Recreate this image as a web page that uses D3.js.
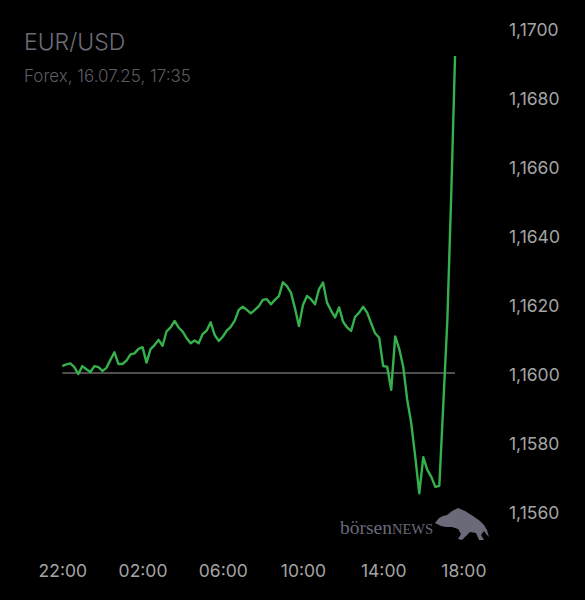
<!DOCTYPE html>
<html><head><meta charset="utf-8">
<script src="https://cdn.jsdelivr.net/npm/d3@7"></script>
<style>
html,body{margin:0;padding:0;background:#000;}
svg{display:block;}
</style></head>
<body>
<svg id="c" width="585" height="600"></svg>
<script>
const title = "EUR/USD";
const subtitle = "Forex, 16.07.25, 17:35";
const times = [
"22:00","22:12","22:24","22:36","22:48",
"23:00","23:12","23:24","23:36","23:48",
"00:00","00:12","00:24","00:36","00:48",
"01:00","01:12","01:24","01:36","01:48",
"02:00","02:12","02:24","02:36","02:48",
"03:00","03:12","03:24","03:36","03:48",
"04:00","04:12","04:24","04:36","04:48",
"05:00","05:12","05:24","05:36","05:48",
"06:00","06:12","06:24","06:36","06:48",
"07:00","07:12","07:24","07:36","07:48",
"08:00","08:12","08:24","08:36","08:48",
"09:00","09:12","09:24","09:36","09:48",
"10:00","10:12","10:24","10:36","10:48",
"11:00","11:12","11:24","11:36","11:48",
"12:00","12:12","12:24","12:36","12:48",
"13:00","13:12","13:24","13:36","13:48",
"14:00","14:12","14:24","14:36","14:48",
"15:00","15:12","15:24","15:36","15:48",
"16:00","16:12","16:24","16:36","16:48",
"17:00","17:12","17:24","17:35"];
const prices = [
1.16020,1.16025,1.16028,1.16017,1.15997,
1.16020,1.16011,1.16003,1.16020,1.16017,
1.16006,1.16015,1.16038,1.16060,1.16026,
1.16026,1.16036,1.16054,1.16057,1.16070,
1.16075,1.16030,1.16069,1.16081,1.16096,
1.16079,1.16121,1.16132,1.16151,1.16132,
1.16120,1.16101,1.16086,1.16094,1.16086,
1.16113,1.16123,1.16147,1.16110,1.16093,
1.16105,1.16123,1.16134,1.16152,1.16183,
1.16192,1.16183,1.16173,1.16183,1.16194,
1.16212,1.16214,1.16199,1.16212,1.16223,
1.16263,1.16252,1.16233,1.16188,1.16136,
1.16197,1.16223,1.16214,1.16199,1.16243,
1.16262,1.16204,1.16181,1.16161,1.16190,
1.16149,1.16132,1.16122,1.16163,1.16175,
1.16192,1.16175,1.16144,1.16115,1.16102,
1.16020,1.16018,1.15951,1.16106,1.16070,
1.16018,1.15922,1.15854,1.15757,1.15651,
1.15756,1.15719,1.15699,1.15670,1.15673,
1.15912,1.16154,1.16530,1.16919];
const referencePrice = 1.1600;
const yTicks = [1.156,1.158,1.160,1.162,1.164,1.166,1.168,1.170];
const xTickLabels = ["22:00","02:00","06:00","10:00","14:00","18:00"];

const parse = d3.timeParse("%Y-%m-%d %H:%M");
const toDate = t => parse((+t.slice(0,2) >= 22 ? "2025-07-15 " : "2025-07-16 ") + t);
const data = times.map((t,i)=>({t:toDate(t), v:prices[i]}));

const svg = d3.select("#c");
svg.append("rect").attr("width",585).attr("height",600).attr("fill","#000");

const x = d3.scaleTime().domain([toDate("22:00"), toDate("18:00")]).range([62.3, 463.4]);
const y = d3.scaleLinear().domain([1.156, 1.170]).range([511, 28]);

const loc = d3.formatLocale({decimal:",", thousands:".", grouping:[3], currency:["","€"]});
const fmt = loc.format(".4f");

const font = "Inter, 'Noto Sans', sans-serif";

// y axis
const ya = svg.append("g").attr("transform","translate(509,2)")
  .call(d3.axisRight(y).tickValues(yTicks).tickSize(0).tickPadding(0).tickFormat(fmt));
ya.select(".domain").remove();
ya.selectAll("text").attr("fill","#a4a4a4").style("font-family",font).style("font-size","17.5px").attr("text-anchor","start");

// x axis
const xa = svg.append("g").attr("transform","translate(0,565)")
  .call(d3.axisBottom(x).tickValues(xTickLabels.map(toDate)).tickSize(0).tickPadding(0).tickFormat((d,i)=>xTickLabels[i]));
xa.select(".domain").remove();
xa.selectAll("text").attr("fill","#a4a4a4").style("font-family",font).style("font-size","17.5px");

// reference line
svg.append("line")
  .attr("x1", x(data[0].t)).attr("x2", x(data[data.length-1].t))
  .attr("y1", y(referencePrice)).attr("y2", y(referencePrice))
  .attr("stroke","#6a6a6a").attr("stroke-width",1.5);

// price line
svg.append("path").datum(data)
  .attr("fill","none").attr("stroke","#36b04c").attr("stroke-width",2.4)
  .attr("stroke-linejoin","round")
  .attr("d", d3.line().x(d=>x(d.t)).y(d=>y(d.v)));

// titles
svg.append("text").attr("x",24).attr("y",50).text(title)
  .attr("fill","#6c6c76").style("font-family",font).style("font-size","23px").style("font-weight",300);
svg.append("text").attr("x",24).attr("y",82).text(subtitle)
  .attr("fill","#5c5c64").style("font-family",font).style("font-size","17px").style("font-weight",300);

// logo
const logo = svg.append("g").attr("fill","#6a6a78");
const lt = logo.append("text").attr("x",340).attr("y",534).style("font-family","'Liberation Serif', 'DejaVu Serif', serif");
lt.append("tspan").text("börsen").style("font-size","19.5px");
lt.append("tspan").text("NEWS").style("font-size","14.5px");
logo.append("path").attr("d","M435,523 L439,518 L443,516 L447,515 L452,511 L458,508 L465,511 L473,516 L480,521 L484,525 L487,530 L489,537 L487,535 L484,531 L481,535 L484,540 L479,540 L476,533 L470,532 L466,536 L462,540 L458,539 L461,534 L458,529 L452,527 L446,527 L441,526 Z");
</script>
</body></html>
